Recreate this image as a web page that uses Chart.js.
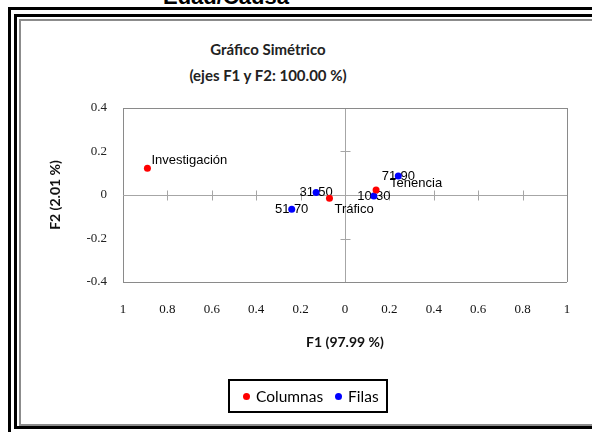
<!DOCTYPE html>
<html>
<head>
<meta charset="utf-8">
<script src="https://cdn.jsdelivr.net/npm/chart.js@4.4.0/dist/chart.umd.min.js"></script>
<style>
  body { margin: 0; background: #fff; }
  #wrap { position: relative; width: 592px; height: 432px; overflow: hidden; }
  .frame { position: absolute; box-sizing: border-box; }
  #f1 { left: 8px; top: 7px; width: 700px; height: 700px; border-left: 3px solid #000; border-top: 3px solid #000; }
  #f2 { left: 14px; top: 14px; width: 700px; height: 415px; border: 3px solid #000; }
  #f3 { left: 19px; top: 19px; width: 700px; height: 407px; border: 2px solid #8c8c8c; }
  #sheetTitle { position: absolute; left: 163px; top: -14px; font: bold 22px "Liberation Sans"; line-height: 22px; color: #000; }
  #title { position: absolute; left: 0; top: 36px; width: 536px; text-align: center; font: bold 15px Lato; line-height: 26px; color: #222; }
  #legend { position: absolute; left: 228px; top: 379px; width: 160px; height: 34px; box-sizing: border-box;
    border: 2px solid #000; display: flex; align-items: center; padding-left: 13px; font: 15.5px Lato; color: #000; }
  #legend .item { display: flex; align-items: center; margin-right: 12px; }
  #legend .dot { width: 7px; height: 7px; border-radius: 50%; margin-right: 6px; }
  canvas { position: absolute; left: 0; top: 0; }
</style>
</head>
<body>
<div id="wrap">
  <div class="frame" id="f1"></div>
  <div class="frame" id="f2"></div>
  <div class="frame" id="f3"></div>
  <div id="sheetTitle">Edad/Causa</div>
  <div id="title">Gráfico Simétrico<br>(ejes F1 y F2: 100.00 %)</div>
  <canvas id="myScatter" width="592" height="432"></canvas>
  <div id="legend"></div>
</div>
<script>
// columnas (causas)
const colNames = ['Investigación', 'Tráfico', 'Tenencia'];
const colF1 = [-0.89, -0.07, 0.14];
const colF2 = [0.123, -0.015, 0.023];

// filas (edades)
const rowNames = ['10-30', '31-50', '51-70', '71-90'];
const rowF1 = [0.13, -0.13, -0.24, 0.24];
const rowF2 = [-0.005, 0.012, -0.066, 0.087];

const f1Ticks = [-1, -0.8, -0.6, -0.4, -0.2, 0, 0.2, 0.4, 0.6, 0.8, 1];
const f2Ticks = [-0.4, -0.2, 0, 0.2, 0.4];

const borderColor = '#8a8a8a';
const zeroColor = '#a6a6a6';

// label placement for the Columnas points
const labelOffsets = {
  'Investigación': [4, -8],
  'Tráfico': [5, 11],
  'Tenencia': [14, -7]
};

const fmt = v => String(Math.round(v * 10) / 10);

const gridColor = (value, edge) => {
  if (Math.abs(value) < 1e-9) return zeroColor;
  if (Math.abs(Math.abs(value) - edge) < 1e-9) return borderColor;
  return 'rgba(0,0,0,0)';
};

// small cross ticks on the zero lines
const crossTicks = {
  id: 'crossTicks',
  beforeDatasetsDraw(chart) {
    const { ctx, scales: { x, y } } = chart;
    const x0 = Math.round(x.getPixelForValue(0)) + 0.5;
    const y0 = Math.round(y.getPixelForValue(0)) + 0.5;
    ctx.save();
    ctx.strokeStyle = zeroColor;
    ctx.lineWidth = 1;
    ctx.beginPath();
    x.ticks.forEach(t => {
      if (Math.abs(t.value) < 1e-9 || Math.abs(t.value) > 0.99) return;
      const px = Math.round(x.getPixelForValue(t.value)) + 0.5;
      ctx.moveTo(px, y0 - 5);
      ctx.lineTo(px, y0 + 5);
    });
    y.ticks.forEach(t => {
      if (Math.abs(t.value) < 1e-9 || Math.abs(t.value) > 0.39) return;
      const py = Math.round(y.getPixelForValue(t.value)) + 0.5;
      ctx.moveTo(x0 - 5, py);
      ctx.lineTo(x0 + 5, py);
    });
    ctx.stroke();
    ctx.restore();
  }
};

// point names, drawn under the markers
const pointLabels = {
  id: 'pointLabels',
  beforeDatasetsDraw(chart) {
    const ctx = chart.ctx;
    ctx.save();
    ctx.font = '13px "Liberation Sans"';
    ctx.fillStyle = '#000';
    ctx.textBaseline = 'middle';
    chart.data.datasets.forEach((ds, di) => {
      chart.getDatasetMeta(di).data.forEach((pt, i) => {
        const name = ds.names[i];
        if (ds.centerLabels) {
          ctx.textAlign = 'center';
          ctx.fillText(name, pt.x, pt.y);
        } else {
          const off = labelOffsets[name] || [5, -8];
          ctx.textAlign = 'left';
          ctx.fillText(name, pt.x + off[0], pt.y + off[1]);
        }
      });
    });
    ctx.restore();
  }
};

const tickFont = { family: 'Liberation Serif', size: 13 };
const axisTitleFont = { family: 'Lato', size: 14, weight: 'bold' };

const chart = new Chart(document.getElementById('myScatter'), {
  type: 'scatter',
  data: {
    datasets: [
      {
        label: 'Columnas',
        names: colNames,
        data: colF1.map((v, i) => ({ x: v, y: colF2[i] })),
        backgroundColor: '#ff0000',
        borderColor: '#ff0000',
        pointRadius: 3.5,
        pointBorderWidth: 0
      },
      {
        label: 'Filas',
        names: rowNames,
        centerLabels: true,
        data: rowF1.map((v, i) => ({ x: v, y: rowF2[i] })),
        backgroundColor: '#0000ff',
        borderColor: '#0000ff',
        pointRadius: 3.5,
        pointBorderWidth: 0
      }
    ]
  },
  options: {
    responsive: false,
    animation: false,
    layout: { padding: { left: 0, right: 25, top: 108, bottom: 80 } },
    plugins: {
      legend: { display: false },
      title: { display: false },
      tooltip: { enabled: false }
    },
    scales: {
      x: {
        type: 'linear',
        min: -1,
        max: 1,
        afterBuildTicks: s => { s.ticks = f1Ticks.map(v => ({ value: v })); },
        afterFit: s => { s.height = 70; },
        grid: { color: c => gridColor(c.tick.value, 1), drawTicks: false },
        border: { display: false },
        ticks: { padding: 20, font: tickFont, color: '#111', callback: v => fmt(Math.abs(v)) },
        title: { display: true, text: 'F1 (97.99 %)', font: axisTitleFont, color: '#111', padding: { top: 0, bottom: 1 } }
      },
      y: {
        type: 'linear',
        min: -0.4,
        max: 0.4,
        afterBuildTicks: s => { s.ticks = f2Ticks.map(v => ({ value: v })); },
        afterFit: s => { s.width = 123; },
        grid: { color: c => gridColor(c.tick.value, 0.4), drawTicks: false },
        border: { display: false },
        ticks: { padding: 16, font: tickFont, color: '#222', callback: v => fmt(v) },
        title: { display: true, text: 'F2 (2.01 %)', font: axisTitleFont, color: '#111', padding: { top: 46.6, bottom: 0 } }
      }
    }
  },
  plugins: [crossTicks, pointLabels]
});

// html legend built from the datasets
const legendBox = document.getElementById('legend');
chart.data.datasets.forEach(ds => {
  const item = document.createElement('span');
  item.className = 'item';
  const dot = document.createElement('span');
  dot.className = 'dot';
  dot.style.background = ds.backgroundColor;
  const txt = document.createElement('span');
  txt.textContent = ds.label;
  item.appendChild(dot);
  item.appendChild(txt);
  legendBox.appendChild(item);
});
</script>
</body>
</html>
